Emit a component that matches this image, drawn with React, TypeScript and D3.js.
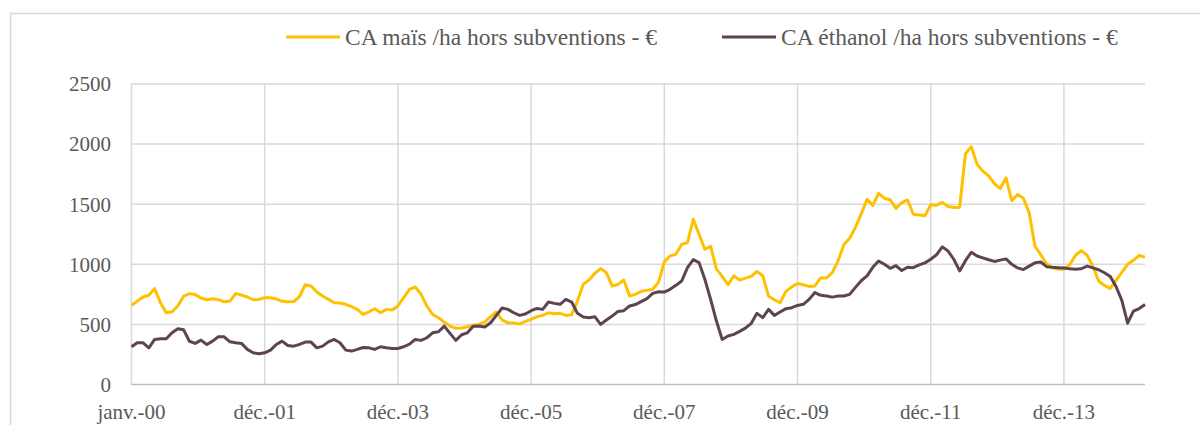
import { useRef, useEffect } from "react"
import * as d3 from "d3"

// CA maïs /ha hors subventions - € (monthly, janv. 2000 onwards)
const maize = [
  658, 694, 728, 742, 798, 680, 597, 605, 653, 735, 756, 748,
  720, 705, 713, 706, 688, 694, 756, 744, 728, 705, 708, 722,
  722, 712, 692, 688, 690, 730, 830, 820, 770, 736, 708, 680,
  678, 667, 647, 625, 583, 605, 630, 597, 625, 620, 653, 722,
  792, 811, 750, 653, 583, 555, 519, 486, 467, 470, 480, 494,
  500, 519, 564, 603, 536, 514, 511, 503, 525, 542, 564, 575,
  597, 589, 592, 575, 580, 694, 833, 869, 925, 964, 931, 819,
  833, 869, 736, 750, 775, 783, 792, 850, 1020, 1070, 1083, 1165,
  1180, 1375, 1250, 1125, 1150, 960, 900, 830, 905, 868, 885, 900,
  940, 905, 735, 705, 680, 775, 812, 840, 830, 816, 820, 887,
  886, 931, 1029, 1163, 1216, 1307, 1419, 1540, 1490, 1590, 1550, 1537,
  1465, 1514, 1535, 1416, 1410, 1403, 1495, 1492, 1515, 1480, 1472, 1475,
  1920, 1978, 1833, 1775, 1735, 1670, 1630, 1720, 1530, 1580, 1550, 1430,
  1150, 1080, 1005, 970, 960, 958, 996, 1075, 1114, 1075, 984, 861,
  824, 800, 867, 932, 1000, 1033, 1073, 1060,
]

// CA éthanol /ha hors subventions - €
const ethanol = [
  314, 347, 347, 305, 375, 380, 380, 430, 464, 455, 360, 342,
  369, 333, 361, 397, 397, 355, 347, 342, 292, 264, 256, 264,
  286, 333, 361, 325, 319, 333, 353, 353, 305, 319, 355, 375,
  347, 286, 278, 292, 308, 305, 292, 314, 305, 300, 300, 314,
  336, 375, 367, 389, 430, 439, 486, 425, 367, 414, 430, 485,
  486, 478, 514, 575, 636, 625, 597, 575, 586, 614, 633, 625,
  686, 675, 667, 708, 686, 592, 561, 556, 564, 500, 536, 569,
  608, 614, 653, 665, 690, 714, 758, 772, 769, 792, 825, 861,
  972, 1039, 1014, 875, 708, 528, 375, 403, 417, 442, 469, 508,
  592, 556, 625, 575, 603, 631, 639, 658, 667, 708, 765, 742,
  736, 727, 736, 736, 750, 808, 863, 903, 975, 1028, 1000, 967,
  988, 948, 975, 972, 995, 1012, 1042, 1079, 1145, 1110, 1040, 945,
  1030, 1100, 1069, 1054, 1038, 1024, 1035, 1045, 1000, 970, 956, 985,
  1012, 1019, 980, 975, 972, 970, 962, 958, 963, 985, 970, 955,
  930, 898, 815, 700, 510, 610, 632, 665,
]

const tickLabels = ["janv.-00", "déc.-01", "déc.-03", "déc.-05", "déc.-07", "déc.-09", "déc.-11", "déc.-13"]
const tickStep = 23
const yTicks = [0, 500, 1000, 1500, 2000, 2500]

const seriesNames = ["CA maïs /ha hors subventions - €", "CA éthanol /ha hors subventions - €"]
const seriesColors = ["#FFC000", "#5E444E"]

export default function App() {
  const svgRef = useRef<SVGSVGElement>(null)
  useEffect(() => {
    const width = 1200
    const height = 425
    const svg = d3.select(svgRef.current)
    svg.selectAll("*").remove()
    svg.attr("width", width).attr("height", height)

    const font = "'Liberation Serif', 'Times New Roman', serif"
    const textColor = "#595959"
    const gridColor = "#d9d9d9"

    // outer chart frame
    svg.append("rect")
      .attr("x", 10.5).attr("y", 13.5)
      .attr("width", 1300).attr("height", 600)
      .attr("fill", "white").attr("stroke", gridColor).attr("stroke-width", 1.5)

    const left = 131.5, right = 1145, top = 84, bottom = 384.5
    const x = d3.scaleLinear().domain([0, maize.length - 1]).range([left, right])
    const y = d3.scaleLinear().domain([0, 2500]).range([bottom, top])

    const g = svg.append("g")

    // horizontal grid
    g.selectAll(".hgrid").data(yTicks.slice(1)).enter().append("line")
      .attr("x1", left).attr("x2", right)
      .attr("y1", d => y(d)).attr("y2", d => y(d))
      .attr("stroke", gridColor).attr("stroke-width", 1.5)

    // vertical grid
    const xTicks = tickLabels.map((_, i) => i * tickStep)
    g.selectAll(".vgrid").data(xTicks).enter().append("line")
      .attr("x1", d => x(d)).attr("x2", d => x(d))
      .attr("y1", top).attr("y2", bottom)
      .attr("stroke", gridColor).attr("stroke-width", 1.5)

    // baseline
    g.append("line")
      .attr("x1", left).attr("x2", right)
      .attr("y1", y(0)).attr("y2", y(0))
      .attr("stroke", "#bfbfbf").attr("stroke-width", 1.5)

    // y labels
    g.selectAll(".ylab").data(yTicks).enter().append("text")
      .attr("x", 111).attr("y", d => y(d))
      .attr("dy", "0.35em")
      .attr("text-anchor", "end")
      .style("font-family", font).style("font-size", "21px").style("fill", textColor)
      .text(d => d)

    // x labels
    g.selectAll(".xlab").data(xTicks).enter().append("text")
      .attr("x", d => x(d)).attr("y", 419)
      .attr("text-anchor", "middle")
      .style("font-family", font).style("font-size", "21px").style("fill", textColor)
      .text((_, i) => tickLabels[i])

    const line = d3.line<number>().x((_, i) => x(i)).y(d => y(d))
    ;[maize, ethanol].forEach((data, k) => {
      g.append("path")
        .datum(data)
        .attr("d", line)
        .attr("fill", "none")
        .attr("stroke", seriesColors[k])
        .attr("stroke-width", 3)
        .attr("stroke-linejoin", "round")
    })

    // legend
    const legendX = [286, 722]
    seriesNames.forEach((name, k) => {
      const lg = svg.append("g").attr("transform", `translate(${legendX[k]}, 37)`)
      lg.append("line").attr("x1", 0).attr("x2", 54).attr("y1", 0).attr("y2", 0)
        .attr("stroke", seriesColors[k]).attr("stroke-width", 3)
      lg.append("text").attr("x", 59).attr("y", 0).attr("dy", "0.35em")
        .style("font-family", font).style("font-size", "23.5px").style("fill", textColor)
        .text(name)
    })
  }, [])

  return (
    <div>
      <svg ref={svgRef} style={{ position: "absolute", left: 0, top: 0 }}></svg>
    </div>
  )
}
